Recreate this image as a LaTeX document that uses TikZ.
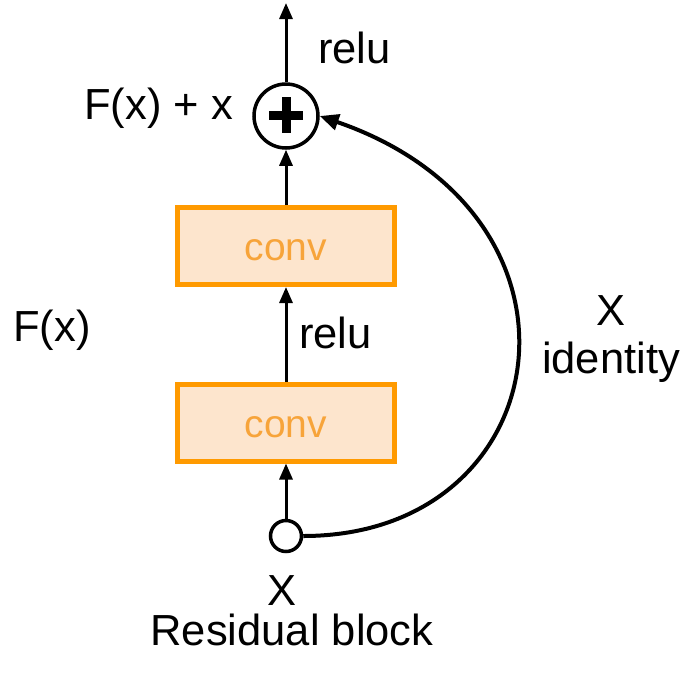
\documentclass[tikz,border=0pt]{standalone}
\usepackage{fontspec}
\setmainfont{Liberation Sans}
\usetikzlibrary{arrows.meta}
\definecolor{convline}{HTML}{FF9A00}
\definecolor{convfill}{HTML}{FDE5CD}
\definecolor{convtext}{HTML}{F7A43A}
\tikzset{
  lbl/.style={inner sep=0pt, font=\fontsize{43.5}{43.5}\selectfont, text=black},
  convbox/.style={draw=convline, fill=convfill, line width=5pt, minimum width=217pt, minimum height=77pt, inner sep=0pt},
  convlbl/.style={anchor=base, inner sep=0pt, text=convtext, font=\fontsize{39}{39}\selectfont},
  ring/.style={circle, draw=black, fill=white, line width=3.5pt, inner sep=0pt},
  arr/.style={line width=3pt, -{Triangle[length=16pt,width=13pt]}},
  bigarr/.style={line width=4pt, -{Triangle[length=19pt,width=16pt]}},
}
\begin{document}
\begin{tikzpicture}[x=1pt,y=-1pt]
\useasboundingbox (0,0) rectangle (683,686);
% nodes
\node[ring, minimum size=64pt] (plus) at (286,116) {};
\node[convbox] (c1) at (286,246) {};
\node[convbox] (c2) at (286,422.5) {};
\node[ring, minimum size=31pt] (in) at (286,536) {};
\coordinate (top) at (286,3);
% conv labels
\node[convlbl] (t1) at (286,260) {conv};
\node[convlbl] (t2) at (286,437) {conv};
% plus sign
\draw[line width=9pt] (plus.center) ++(-17,-1) -- ++(34,0);
\draw[line width=9pt] (plus.center) ++(0,-19) -- ++(0,36);
% text labels
\node[lbl, anchor=base west] (relutop) at (318,63) {relu};
\node[lbl, anchor=base west] (fxx) at (84,119) {F(x) + x};
\node[lbl, anchor=base west] (fx) at (13,341) {F(x)};
\node[lbl, anchor=base west] (relumid) at (299,348) {relu};
\node[lbl, anchor=base] (xr) at (611,325) {X};
\node[lbl, anchor=base] (ident) at (611,373) {identity};
\node[lbl, anchor=base] (xb) at (282,605) {X};
\node[lbl, anchor=base] (res) at (292,645) {Residual block};
% connectors
\draw[arr] (in.north) -- (c2.south);
\draw[arr] (c2.north) -- (c1.south);
\draw[arr] (c1.north) -- (plus.south);
\draw[arr] (plus.north) -- (top);
\draw[bigarr] (in.east) .. controls +(255,0) and +(290,100) .. (plus.east);
\end{tikzpicture}
\end{document}
